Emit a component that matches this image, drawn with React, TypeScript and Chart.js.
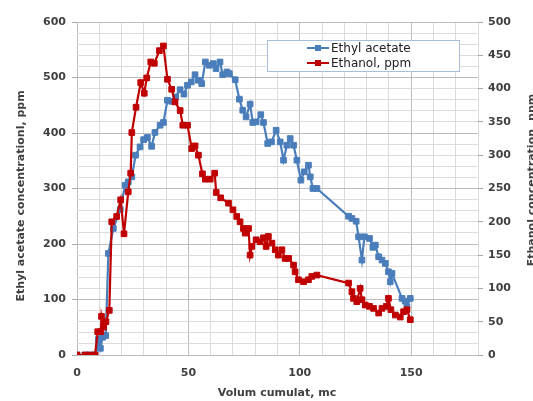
import React, { useEffect, useRef } from 'react';
import { Chart, registerables } from 'chart.js';

Chart.register(...registerables);

// Ethyl acetate (left axis, ppm)
const ethylX = [0, 3.6, 5.8, 8.1, 9.6, 10.5, 11.5, 12.9, 14.1, 16.3, 19.4, 21.6, 23, 24.6, 26.3, 28.3, 29.9, 31.6, 33.5, 35, 37.3, 38.8, 40.6, 42.5, 44.3, 46.3, 48, 49.6, 51.3, 53, 54.5, 56, 57.6, 59.4, 61.2, 62.4, 64.2, 65.4, 67.3, 68.4, 71, 72.9, 74.4, 75.9, 77.7, 78.9, 80.4, 82.5, 83.7, 85.6, 87.3, 89.4, 91.2, 92.7, 94.2, 95.7, 97.2, 98.7, 100.5, 102, 103.9, 104.7, 105.9, 107.7, 121.9, 123.4, 125.3, 126.4, 127.9, 129, 131.3, 132.8, 133.9, 135.4, 136.9, 138.4, 139.8, 140.6, 141.4, 145.9, 147.3, 148.1, 149.6];
const ethylY = [0, 0, 0, 0, 28, 12, 32, 35, 183, 228, 262, 306, 312, 321, 360, 375, 388, 392, 376, 401, 414, 419, 459, 457, 465, 478, 470, 486, 492, 505, 495, 489, 528, 522, 525, 516, 528, 505, 510, 507, 496, 461, 441, 429, 452, 419, 420, 433, 419, 381, 384, 405, 384, 351, 378, 390, 378, 351, 315, 330, 342, 321, 300, 300, 250, 246, 241, 213, 171, 213, 210, 194, 198, 177, 171, 165, 150, 132, 147, 102, 97, 87, 102];

// Ethanol (right axis, ppm)
const ethanolX = [0, 3.6, 5.8, 8.1, 9.3, 10.7, 11, 12, 13, 14.5, 15.6, 17.8, 19.6, 21.1, 23, 24.1, 24.6, 26.5, 28.6, 30.2, 31.3, 33.1, 34.7, 37, 38.8, 40.6, 42.5, 44, 46.3, 47.5, 49.6, 51.5, 53, 54.5, 56.3, 57.6, 59.8, 61.8, 62.5, 64.5, 68, 70, 71.7, 73.2, 74.7, 75.5, 77, 77.7, 78.5, 80.4, 82.2, 83.7, 84.9, 85.9, 87.5, 89, 90.4, 92, 93.4, 95, 97.2, 97.9, 99.4, 101.7, 103.9, 105.4, 107.7, 121.9, 123.4, 124.1, 125.6, 127.1, 127.9, 129.4, 131.3, 133.1, 135.4, 136.9, 138.8, 139.8, 140.9, 142.9, 145.1, 146.6, 148.1, 149.6];
const ethanolY = [0, 0, 0, 0, 35, 35, 58, 42, 50, 67, 200, 208, 233, 182, 245, 273, 334, 372, 409, 393, 416, 440, 438, 457, 464, 414, 399, 380, 367, 345, 345, 310, 314, 300, 272, 264, 264, 273, 244, 236, 228, 218, 208, 200, 190, 183, 190, 150, 163, 173, 170, 176, 163, 178, 168, 158, 150, 158, 145, 145, 135, 125, 113, 110, 113, 118, 120, 108, 95, 85, 80, 100, 83, 75, 73, 70, 63, 70, 73, 85, 68, 60, 57, 65, 68, 53];

const seriesNames = ['Ethyl acetate', 'Ethanol, ppm'];
const seriesColors = ['#4a7ebb', '#c00000'];
const xTickLabels = [0, 50, 100, 150];
const leftTickLabels = [0, 100, 200, 300, 400, 500, 600];
const rightTickLabels = [0, 50, 100, 150, 200, 250, 300, 350, 400, 450, 500];
const xTitle = 'Volum cumulat, mc';
const leftTitle = 'Ethyl acetate concentrationl, ppm';
const rightTitle = 'Ethanol concentration, ppm';

const FONT = "'DejaVu Sans', sans-serif";

export default function App() {
  const ref = useRef<HTMLCanvasElement>(null);

  useEffect(() => {
    if (!ref.current) return;

    const titlesAndLegend = {
      id: 'titlesAndLegend',
      afterDraw(chart: any) {
        const ctx = chart.ctx;
        ctx.save();
        ctx.fillStyle = '#404040';
        ctx.font = `bold 11px ${FONT}`;
        ctx.textAlign = 'center';
        ctx.textBaseline = 'middle';
        // x title
        ctx.fillText(xTitle, 277, 393);
        // left title
        ctx.save();
        ctx.translate(21, 196);
        ctx.rotate(-Math.PI / 2);
        ctx.fillText(leftTitle, 0, 0);
        ctx.restore();
        // right title (clipped by the canvas edge, as in the original)
        ctx.save();
        ctx.translate(532, 180);
        ctx.rotate(-Math.PI / 2);
        ctx.fillText(rightTitle, 0, 0);
        ctx.restore();

        // legend
        const bx = 267.5, by = 40.5, bw = 192, bh = 31;
        ctx.fillStyle = '#ffffff';
        ctx.fillRect(bx, by, bw, bh);
        ctx.strokeStyle = '#a7bfdd';
        ctx.lineWidth = 1;
        ctx.strokeRect(bx, by, bw, bh);
        ctx.font = `12px ${FONT}`;
        ctx.textAlign = 'left';
        const rows = [48, 63];
        seriesNames.forEach((name, i) => {
          const y = rows[i];
          ctx.strokeStyle = seriesColors[i];
          ctx.lineWidth = 2;
          ctx.beginPath();
          ctx.moveTo(307, y);
          ctx.lineTo(329, y);
          ctx.stroke();
          ctx.fillStyle = seriesColors[i];
          ctx.fillRect(315, y - 3, 6, 6);
          ctx.fillStyle = '#222222';
          ctx.fillText(name, 331, y + 0.5);
        });
        ctx.restore();
      },
    };

    const mk = (xs: number[], ys: number[]) => xs.map((x, i) => ({ x, y: ys[i] }));

    const chart = new Chart(ref.current, {
      type: 'scatter',
      data: {
        datasets: [
          {
            label: seriesNames[0],
            data: mk(ethylX, ethylY),
            yAxisID: 'y',
            showLine: true,
            borderColor: seriesColors[0],
            backgroundColor: seriesColors[0],
            borderWidth: 2.2,
            pointStyle: 'rect',
            pointRadius: 4,
            pointBorderWidth: 1,
            order: 2,
          },
          {
            label: seriesNames[1],
            data: mk(ethanolX, ethanolY),
            yAxisID: 'y1',
            showLine: true,
            borderColor: seriesColors[1],
            backgroundColor: seriesColors[1],
            borderWidth: 2.2,
            pointStyle: 'rect',
            pointRadius: 4,
            pointBorderWidth: 1,
            order: 1,
          },
        ],
      },
      options: {
        animation: false,
        responsive: false,
        devicePixelRatio: 1,
        layout: { padding: { top: 22, left: 0, right: 0, bottom: 0 } },
        plugins: { legend: { display: false }, tooltip: { enabled: false } },
        scales: {
          x: {
            type: 'linear',
            min: 0,
            max: 180,
            afterFit: (s: any) => { s.height = 46; },
            ticks: {
              stepSize: 10,
              autoSkip: false,
              maxRotation: 0,
              padding: 8,
              color: '#404040',
              font: { family: FONT, size: 11, weight: 'bold' },
              callback: (v: any) => (xTickLabels.includes(Number(v)) ? String(v) : ''),
            },
            grid: {
              color: (c: any) => (c.tick && c.tick.value % 50 === 0 ? '#bdbdbd' : '#dcdcdc'),
              tickColor: 'rgba(0,0,0,0)',
              tickLength: 4,
            },
            border: { display: false },
          },
          y: {
            type: 'linear',
            position: 'left',
            min: 0,
            max: 600,
            afterFit: (s: any) => { s.width = 77; },
            ticks: {
              stepSize: 20,
              autoSkip: false,
              padding: 6,
              color: '#404040',
              font: { family: FONT, size: 11, weight: 'bold' },
              callback: (v: any) => (leftTickLabels.includes(Number(v)) ? String(v) : ''),
            },
            grid: {
              color: (c: any) => (c.tick && c.tick.value % 100 === 0 ? '#bdbdbd' : '#dcdcdc'),
              tickColor: (c: any) => (c.tick && c.tick.value % 100 === 0 ? '#a8a8a8' : 'rgba(0,0,0,0)'),
              tickLength: 5,
            },
            border: { display: false },
          },
          y1: {
            type: 'linear',
            position: 'right',
            min: 0,
            max: 500,
            afterFit: (s: any) => { s.width = 55; },
            ticks: {
              stepSize: 50,
              autoSkip: false,
              padding: 5,
              color: '#404040',
              font: { family: FONT, size: 11, weight: 'bold' },
              callback: (v: any) => (rightTickLabels.includes(Number(v)) ? String(v) : ''),
            },
            grid: {
              drawOnChartArea: false,
              tickColor: '#a8a8a8',
              tickLength: 5,
            },
            border: { display: false },
          },
        },
      },
      plugins: [titlesAndLegend],
    } as any);

    return () => chart.destroy();
  }, []);

  return (
    <div style={{ position: 'absolute', left: 0, top: 0, width: 533, height: 401, background: '#ffffff' }}>
      <canvas ref={ref} width={533} height={401} />
    </div>
  );
}
